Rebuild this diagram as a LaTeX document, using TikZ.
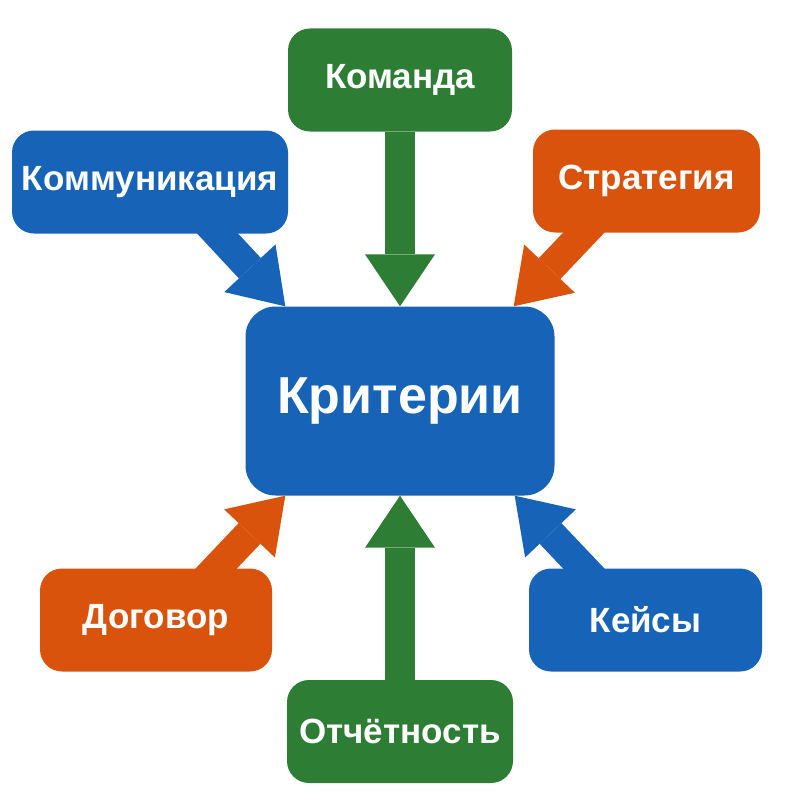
\documentclass[tikz,border=0pt]{standalone}
\usepackage{fontspec}
\setmainfont{Liberation Sans}
\usepackage{xcolor}
\usetikzlibrary{arrows.meta,positioning,backgrounds}
\definecolor{cblue}{HTML}{1763B8}
\definecolor{cgreen}{HTML}{2E7D35}
\definecolor{corange}{HTML}{D9530D}

\begin{document}
\begin{tikzpicture}[
  x=1pt, y=-1pt,
  box/.style={rounded corners=22pt, text=white, font=\fontsize{35}{38}\selectfont\bfseries,
              inner sep=0pt, minimum height=103pt},
  arr/.style={line width=30pt, -{Triangle[length=52pt, width=70pt, line width=0pt]}},
]
\useasboundingbox (0,0) rectangle (800,800);
\node[box, fill=cblue, rounded corners=30pt, minimum width=309pt, minimum height=189pt,
      font=\fontsize{52}{56}\selectfont\bfseries] (krit) at (400,401) {Критерии};
\node[box, fill=cgreen, minimum width=224pt] (kom) at (400,80) {Команда};
\node[box, fill=cblue, minimum width=276pt] (komm) at (150,182) {Коммуникация};
\node[box, fill=corange, minimum width=227pt] (strat) at (646.5,181) {Стратегия};
\node[box, fill=corange, minimum width=232pt] (dog) at (156,620) {Договор};
\node[box, fill=cblue, minimum width=233pt] (keis) at (645.5,620) {Кейсы};
\node[box, fill=cgreen, minimum width=226pt] (otch) at (400,731.5) {Отчётность};
% arrows behind the boxes
\begin{scope}[on background layer]
\draw[arr, cgreen] (kom.south) -- (krit.north);
\draw[arr, cgreen] (otch.north) -- (krit.south);
\draw[arr, cblue] ([shift={(-90,-21)}]komm.south east) -- ([xshift=40pt]krit.north west);
\draw[arr, corange] ([shift={(69,-19)}]strat.south west) -- ([xshift=-41pt]krit.north east);
\draw[arr, corange] ([shift={(-70,15)}]dog.north east) -- ([xshift=40pt]krit.south west);
\draw[arr, cblue] ([shift={(69,15)}]keis.north west) -- ([xshift=-40pt]krit.south east);
\end{scope}
\end{tikzpicture}
\end{document}
